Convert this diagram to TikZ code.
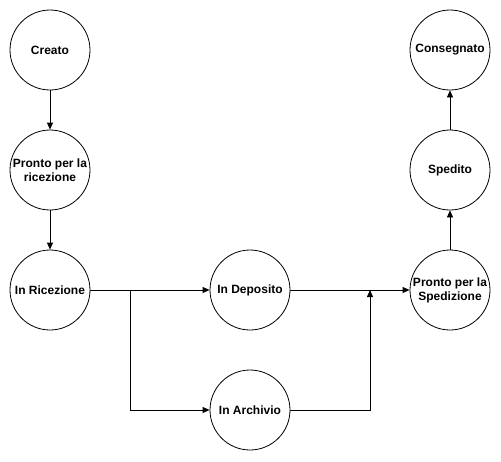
\documentclass[tikz,border=0pt]{standalone}
\usepackage{fontspec}
\setmainfont{Liberation Sans}
\usetikzlibrary{arrows.meta}
\begin{document}
\begin{tikzpicture}[x=1pt,y=-1pt,
  state/.style={circle,draw,line width=0.8pt,minimum size=80pt,inner sep=0pt,align=center,font=\fontsize{12}{14}\selectfont\bfseries},
  conn/.style={line width=0.8pt,-{Triangle[length=7pt,width=6pt]}},
  plain/.style={line width=0.8pt}]
\useasboundingbox (0,0) rectangle (501,461);
\node[state] (creato) at (50,50) {Creato};
\node[state] (prric) at (50,170) {Pronto per la\\ricezione};
\node[state] (inric) at (50,290) {In Ricezione};
\node[state] (indep) at (250,290) {In Deposito};
\node[state] (inarc) at (250,410) {In Archivio};
\node[state] (prsped) at (450,290) {Pronto per la\\Spedizione};
\node[state] (sped) at (450,170) {Spedito};
\node[state] (cons) at (450,50) {Consegnato};
\coordinate (split) at (130,290);
\coordinate (join) at (370,290);
\draw[conn] (creato) -- (prric);
\draw[conn] (prric) -- (inric);
\draw[conn] (inric) -- (indep);
\draw[conn] (split) |- (inarc);
\draw[conn] (indep) -- (prsped);
\draw[conn] (inarc) -| (join);
\draw[conn] (prsped) -- (sped);
\draw[conn] (sped) -- (cons);
\end{tikzpicture}
\end{document}
